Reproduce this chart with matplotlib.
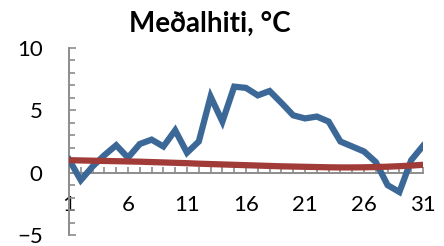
import matplotlib
matplotlib.use('Agg')
import matplotlib.pyplot as plt
from matplotlib.ticker import MultipleLocator, FixedLocator

days = list(range(1, 32))
medalhiti = [1.05, -0.6, 0.5, 1.4, 2.2, 1.2, 2.3, 2.65, 2.1, 3.4,
             1.6, 2.5, 6.1, 4.1, 6.9, 6.8, 6.2, 6.55, 5.6, 4.6,
             4.35, 4.5, 4.1, 2.5, 2.1, 1.7, 0.85, -1.0, -1.55, 1.0, 2.15]
normal = [1.0, 0.98, 0.96, 0.94, 0.92, 0.9, 0.88, 0.85, 0.82, 0.79,
          0.76, 0.72, 0.69, 0.66, 0.63, 0.6, 0.57, 0.54, 0.51, 0.49,
          0.47, 0.45, 0.43, 0.42, 0.42, 0.43, 0.45, 0.48, 0.52, 0.57, 0.63]
xlabels = [1, 6, 11, 16, 21, 26, 31]

plt.rcParams['font.family'] = ['Lato', 'DejaVu Sans']

fig = plt.figure(figsize=(4.44, 2.46), dpi=100)
ax = fig.add_axes([69/444, 11/246, 354/444, 187/246])

ax.plot(days, medalhiti, color='#3C6898', lw=4.5, solid_joinstyle='miter', zorder=3)
ax.plot(days, normal, color='#A03B38', lw=4.5, zorder=4)

ax.set_xlim(1, 31)
ax.set_ylim(-5, 10)

for s in ['top', 'right']:
    ax.spines[s].set_visible(False)
ax.spines['bottom'].set_position(('data', 0))
for s in ['left', 'bottom']:
    ax.spines[s].set_color('#8C8C8C')
    ax.spines[s].set_linewidth(1.4)

ax.xaxis.set_major_locator(FixedLocator(xlabels))
ax.xaxis.set_minor_locator(MultipleLocator(1))
ax.tick_params(axis='x', which='both', direction='in', length=4, width=1.2,
               color='#8C8C8C', pad=16, labelsize=16)

ax.yaxis.set_major_locator(MultipleLocator(5))
ax.yaxis.set_minor_locator(MultipleLocator(1))
ax.tick_params(axis='y', which='major', direction='in', length=5, width=1.2,
               color='#8C8C8C', pad=19, labelsize=16)
ax.tick_params(axis='y', which='minor', direction='in', length=4, width=1.2,
               color='#8C8C8C')

fig.text(0.473, 0.905, 'Meðalhiti, °C', ha='center', va='center',
         fontsize=20, fontweight='bold')

fig.savefig('out.png', dpi=100)
